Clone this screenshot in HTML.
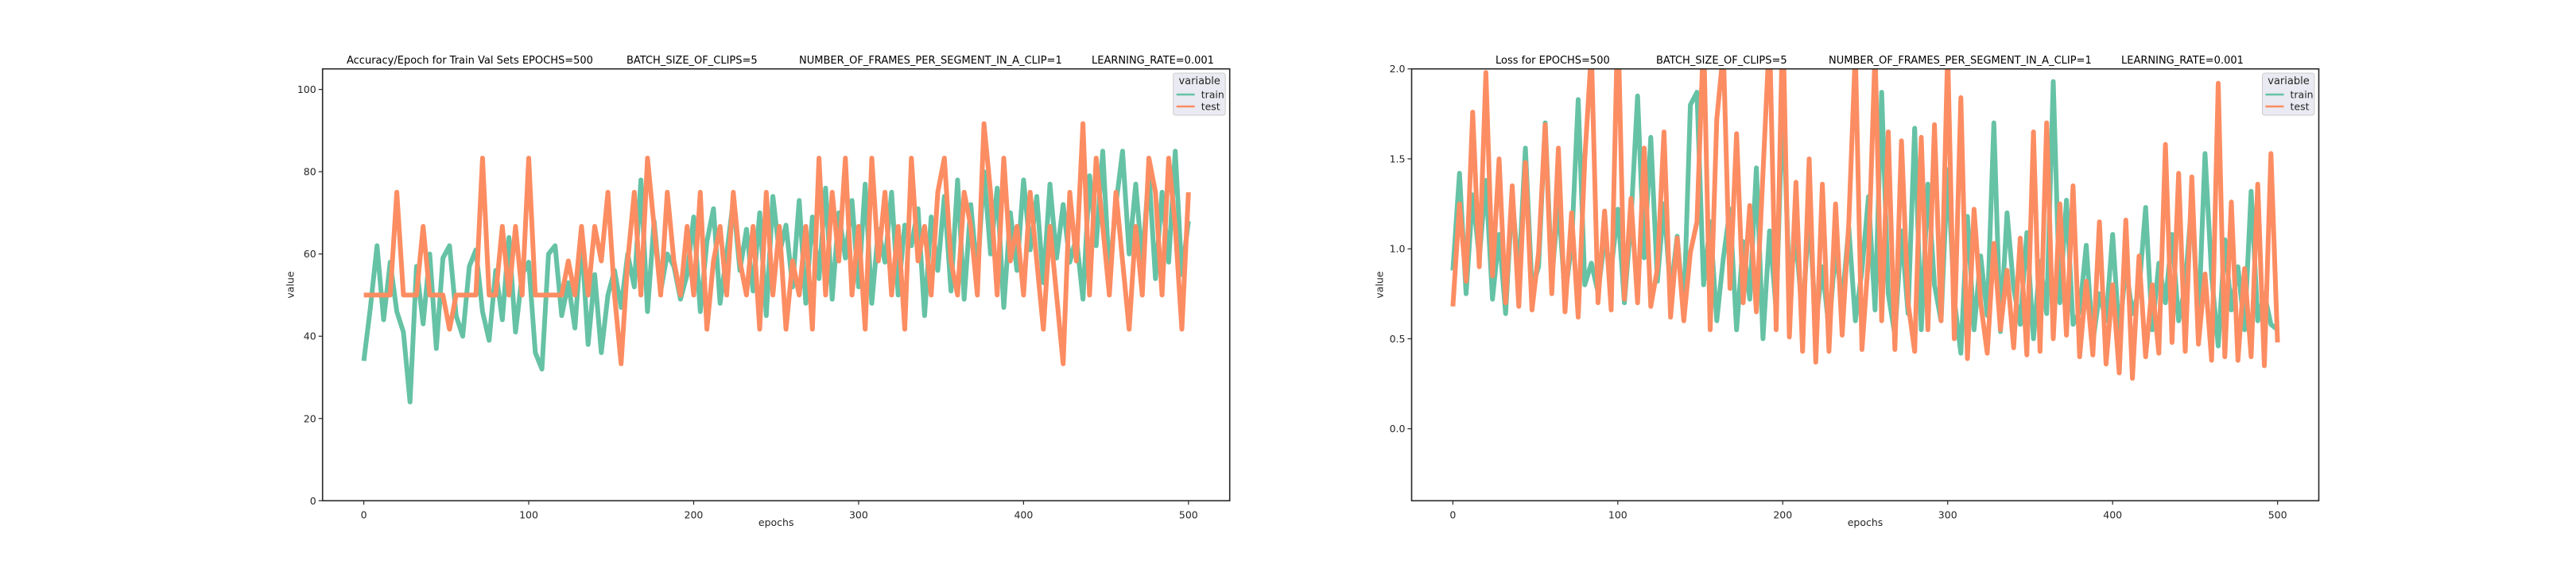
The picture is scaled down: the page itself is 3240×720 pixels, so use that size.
<!DOCTYPE html>
<html><head><meta charset="utf-8"><style>
html,body{margin:0;padding:0;background:#fff;}
svg{display:block;font-family:"DejaVu Sans","Liberation Sans",sans-serif;}
</style></head><body>
<svg id="fig" width="3240" height="720" viewBox="0 0 3240 720"></svg>
<script>
const epochStep = 4;
const accTrain = [34,47,62,44,58,46,41,24,57,43,60,37,59,62,45,40,57,61,46,39,56,44,64,41,55,58,36,32,60,62,45,53,42,
64,38,55,36,50,56,47,60,52,78,46,68,51,60,57,49,55,69,46,63,71,48,60,73,56,66,51,70,45,74,
60,67,52,73,48,69,54,76,49,70,59,73,52,77,48,66,58,75,50,67,62,71,45,69,56,74,51,78,49,72,55,80,60,76,47,70,56,78,61,74,53,77,59,72,58,64,49,79,62,85,55,72,85,60,77,58,80,54,75,58,85,55,68];
const accTest = [50,50,50,50,50,75,50,50,50,66.7,50,50,50,41.7,50,50,50,50,83.3,50,50,66.7,50,66.7,50,83.3,50,50,50,50,50,58.3,50,
66.7,50,66.7,58.3,75,50,33.3,58.3,75,50,83.3,66.7,50,75,58.3,50,66.7,50,75,41.7,58.3,66.7,50,75,58.3,50,66.7,41.7,75,50,
66.7,41.7,58.3,50,66.7,41.7,83.3,50,75,58.3,83.3,50,66.7,41.7,83.3,58.3,75,50,66.7,41.7,83.3,58.3,66.7,50,75,83.3,58.3,50,75,66.7,50,91.7,75,50,83.3,58.3,66.7,50,75,58.3,41.7,66.7,50,33.3,75,58.3,91.7,50,83.3,66.7,50,75,58.3,41.7,66.7,50,83.3,75,50,83.3,66.7,41.7,75];
const lossTrain = [0.88,1.42,0.75,1.30,0.95,1.38,0.72,1.08,0.64,1.29,0.85,1.56,0.78,0.90,1.70,0.83,1.26,0.74,1.02,1.83,0.80,0.92,0.76,1.05,0.88,1.22,0.70,1.16,1.85,0.95,1.62,0.82,1.25,
0.75,1.07,0.64,1.80,1.87,0.80,1.15,0.60,0.95,1.22,0.55,1.04,0.72,1.45,0.50,1.10,0.66,1.84,0.80,1.05,0.62,1.20,0.58,0.90,0.55,1.00,0.70,1.12,0.60,0.88,
1.29,0.66,1.87,0.75,0.52,1.10,0.64,1.67,0.55,1.36,0.80,0.60,1.44,0.72,0.42,1.18,0.55,0.96,0.63,1.70,0.54,1.20,0.78,0.58,1.09,0.50,0.93,0.64,1.93,0.70,1.27,0.58,0.65,1.02,0.48,0.75,0.60,1.08,0.52,0.90,0.64,0.77,1.23,0.55,0.92,0.70,1.08,0.60,0.80,1.27,0.58,1.53,0.85,0.46,1.05,0.66,0.90,0.55,1.32,0.60,0.75,0.58,0.55];
const lossTest = [0.68,1.25,0.82,1.76,0.90,1.98,0.85,1.50,0.70,1.35,0.68,1.48,0.66,0.98,1.69,0.75,1.56,0.65,1.20,0.62,1.50,2.10,0.70,1.21,0.66,2.30,0.72,1.28,0.70,1.56,0.68,0.89,1.65,
0.62,1.06,0.60,0.98,1.15,2.20,0.55,1.72,2.10,0.78,1.64,0.70,1.24,0.65,1.42,2.20,0.55,2.30,0.51,1.37,0.43,1.50,0.37,1.36,0.43,1.25,0.52,1.14,2.10,0.44,
0.95,2.10,0.60,1.65,0.44,1.60,0.70,0.43,1.62,0.55,1.69,0.60,2.10,0.50,1.84,0.39,1.22,0.70,0.42,1.03,0.55,0.88,0.45,1.06,0.41,1.65,0.43,1.70,0.50,1.25,0.52,1.35,0.40,0.82,0.41,1.15,0.36,0.80,0.31,1.16,0.28,0.96,0.40,0.80,0.42,1.58,0.48,1.42,0.43,1.40,0.47,0.86,0.38,1.92,0.40,1.26,0.38,0.89,0.40,1.36,0.35,1.53,0.48];
const xTicks = [0,100,200,300,400,500];
const accYTicks = [0,20,40,60,80,100];
const lossYTicks = [0.0,0.5,1.0,1.5,2.0];
const lossYLabels = ["0.0","0.5","1.0","1.5","2.0"];
const accTitleParts = ["Accuracy/Epoch for Train Val Sets EPOCHS=500","BATCH_SIZE_OF_CLIPS=5","NUMBER_OF_FRAMES_PER_SEGMENT_IN_A_CLIP=1","LEARNING_RATE=0.001"];
const lossTitleParts = ["Loss for  EPOCHS=500","BATCH_SIZE_OF_CLIPS=5","NUMBER_OF_FRAMES_PER_SEGMENT_IN_A_CLIP=1","LEARNING_RATE=0.001"];

const NS="http://www.w3.org/2000/svg";
const svg=document.getElementById('fig');
function mk(tag,attrs,parent){const e=document.createElementNS(NS,tag);for(const k in attrs)e.setAttribute(k,attrs[k]);(parent||svg).appendChild(e);return e;}

function drawChart(o){
  const g=mk('g',{});
  
  
  const L=o.left,R=o.left+1141,T=86.7,B=630.3;
  const xs=v=>L+(v-(-25))/550*(R-L);
  const ys=v=>B-(v-o.ymin)/(o.ymax-o.ymin)*(B-T);
  const cid='clip-'+o.name;
  const cp=mk('clipPath',{id:cid},g);mk('rect',{x:L,y:T,width:R-L,height:B-T},cp);
  const series=[[o.train,'#66c2a5','train-line'],[o.test,'#fc8d62','test-line']];
  series.forEach(s=>{
    const d=s[0].map((v,i)=>(i?'L':'M')+xs(i*epochStep).toFixed(1)+' '+ys(v).toFixed(1)).join(' ');
    const p=mk('path',{d:d,fill:'none',stroke:s[1],'stroke-width':6,'stroke-linejoin':'round','clip-path':'url(#'+cid+')'},g);
    
    
  });
  const fr=mk('rect',{x:L,y:T,width:R-L,height:B-T,fill:'none',stroke:'#262626','stroke-width':1.6},g);
  
  
  xTicks.forEach(v=>{
    const x=xs(v);
    mk('line',{x1:x,x2:x,y1:B,y2:B+5,stroke:'#262626','stroke-width':1.2},g);
    const t=mk('text',{x:x,y:B+22,'text-anchor':'middle','font-size':12.5,fill:'#262626'},g);
    t.textContent=v;
    
    
  });
  o.yticks.forEach((v,i)=>{
    const y=ys(v);
    mk('line',{x1:L-5,x2:L,y1:y,y2:y,stroke:'#262626','stroke-width':1.2},g);
    const t=mk('text',{x:L-8,y:y+4.5,'text-anchor':'end','font-size':12.5,fill:'#262626'},g);
    t.textContent=o.ylabels[i];
    
    
  });
  const xl=mk('text',{x:(L+R)/2,y:662,'text-anchor':'middle','font-size':12.5,fill:'#262626'},g);
  xl.textContent='epochs';
  
  
  const yl=mk('text',{x:L-36,y:(T+B)/2,'text-anchor':'middle','font-size':12.5,fill:'#262626',transform:'rotate(-90 '+(L-36)+' '+((T+B)/2)+')'},g);
  yl.textContent='value';
  
  
  o.titles.forEach((s,i)=>{
    const t=mk('text',{x:o.titleX[i],y:80,'font-size':13,fill:'#000'},g);
    t.textContent=s;
    
    
  });
  const lg=mk('g',{},g);
  
  
  const lx=R-71;
  mk('rect',{x:lx,y:92,width:65.5,height:53,rx:3,fill:'#eaeaf2',stroke:'#cccccc','stroke-width':1},lg);
  const lt=mk('text',{x:lx+33,y:106,'text-anchor':'middle','font-size':13,fill:'#262626'},lg);
  lt.textContent='variable';
  [['train','#66c2a5',119],['test','#fc8d62',134]].forEach(e=>{
    const eg=mk('g',{},lg);
    
    
    mk('line',{x1:lx+4,x2:lx+27,y1:e[2],y2:e[2],stroke:e[1],'stroke-width':2.5},eg);
    const et=mk('text',{x:lx+35,y:e[2]+4.5,'font-size':12.5,fill:'#262626'},eg);
    et.textContent=e[0];
  });
}
drawChart({name:'accuracy-chart',left:405.7,ymin:0,ymax:105,train:accTrain,test:accTest,yticks:accYTicks,ylabels:accYTicks.map(String),titles:accTitleParts,titleX:[436,788,1005,1373]});
drawChart({name:'loss-chart',left:1775.5,ymin:-0.4,ymax:2.0,train:lossTrain,test:lossTest,yticks:lossYTicks,ylabels:lossYLabels,titles:lossTitleParts,titleX:[1881,2083,2300,2668]});
</script>
</body></html>
